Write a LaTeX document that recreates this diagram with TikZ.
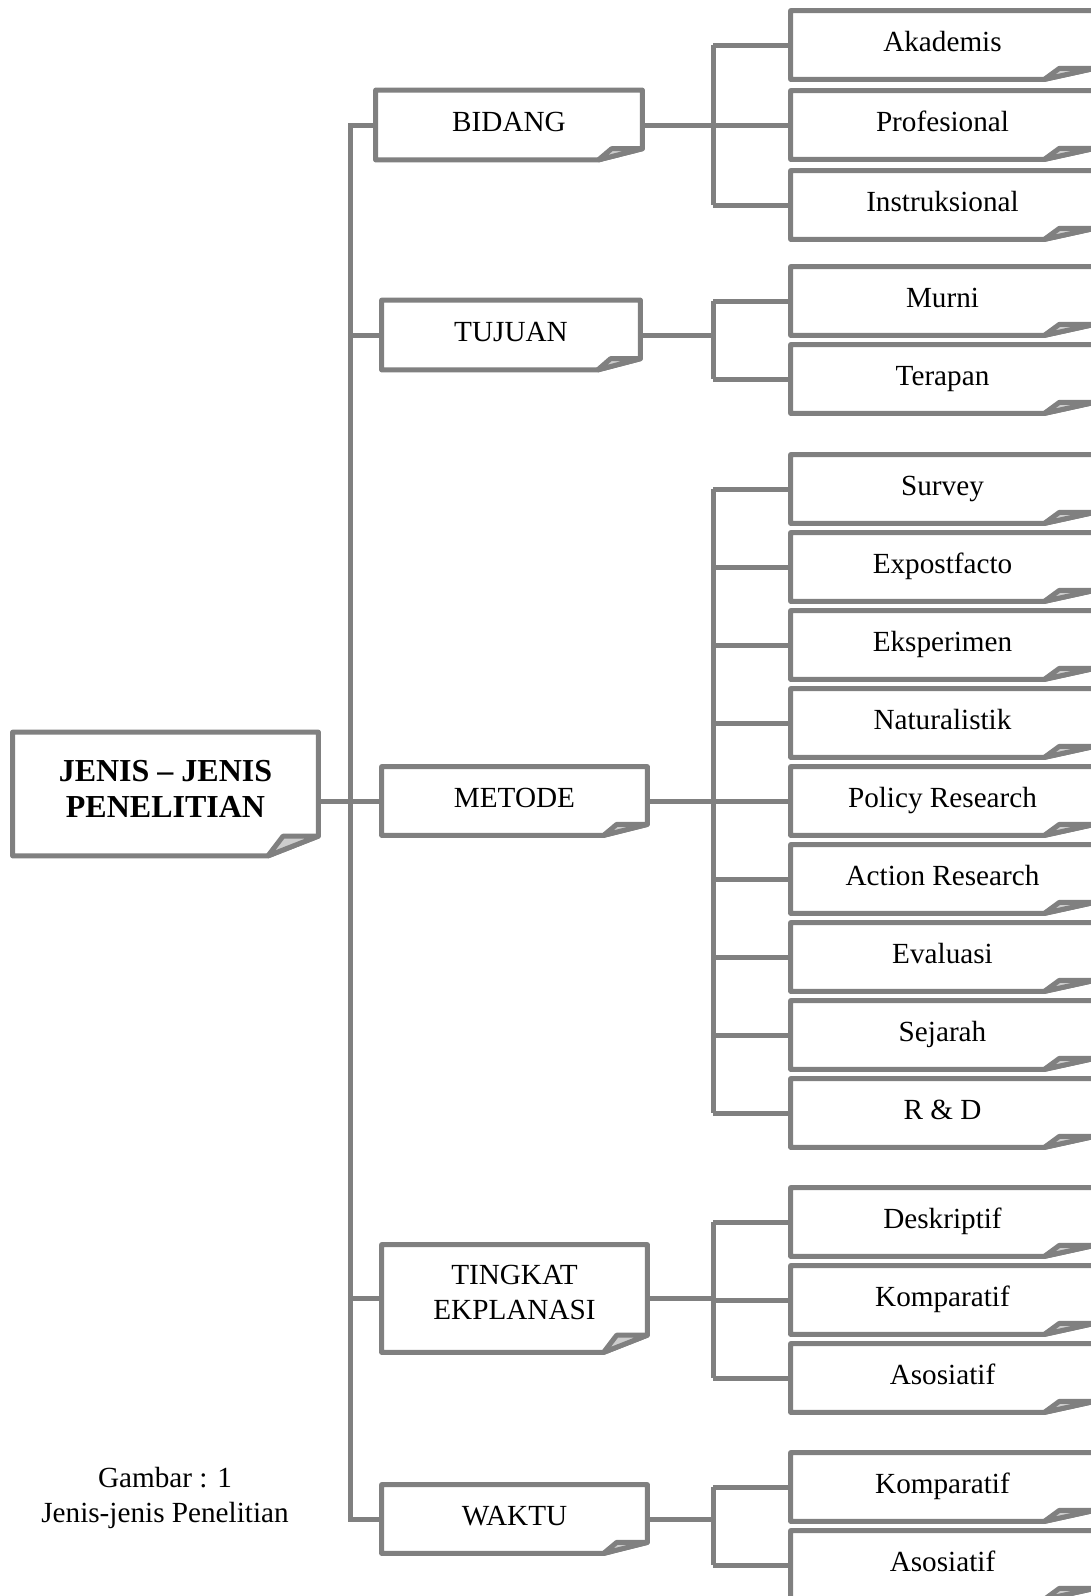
\documentclass[tikz,border=0pt]{standalone}
\usepackage{fontspec}
\setmainfont{Liberation Serif}
\usetikzlibrary{calc}
\definecolor{linegray}{RGB}{128,128,128}
\definecolor{foldgray}{RGB}{205,205,205}
\tikzset{boxline/.style = {draw=linegray, line width=2.5pt, line join=round}}
\tikzset{link/.style = {draw=linegray, line width=2.5pt}}
\tikzset{box/.style 2 args = {inner sep=0, align=center, minimum width=#1*0.5pt, minimum height=#2*0.5pt, font=\fontsize{14.6}{17.5}\selectfont}}
\tikzset{oneline/.style = {text height=0.683em, text depth=0.05em}}
\tikzset{item/.style = {box={303}{68}, oneline}}
% outline of a note with a curled lower right corner
\newcommand{\foldnote}[1]{%
  \coordinate (#1-a) at ($(#1.south east)!0.165!(#1.south west)$);
  \coordinate (#1-c) at ($(#1.south east)!0.16!(#1.north east)$);
  \coordinate (#1-b) at ($(#1-a |- #1-c)!0.3!(#1-c)$);
  \draw[boxline] (#1.north west) -- (#1.north east) -- (#1-c) -- (#1-a) -- (#1.south west) -- cycle;
  \filldraw[boxline, fill=foldgray] (#1-a) -- (#1-b) -- (#1-c) -- cycle;
}

\begin{document}
\begin{tikzpicture}[x=0.5pt, y=-0.5pt]
        \useasboundingbox (0,0) rectangle (1091,1596);
        \clip (0,0) rectangle (1091,1596);
        % main box and the five kinds
        \node[box={305}{123}, text depth=5pt, font=\bfseries\fontsize{16}{18}\selectfont] (jenis) at (165.5,794) {JENIS -- JENIS\\PENELITIAN};
        \node[box={266}{69}, oneline] (bidang) at (509,125) {BIDANG};
        \node[box={258}{69}, oneline] (tujuan) at (511,335) {TUJUAN};
        \node[box={265}{68}, oneline] (metode) at (514.5,801) {METODE};
        \node[box={265}{107}, text depth=6.5pt] (tingkat) at (514.5,1298.5) {TINGKAT\\EKPLANASI};
        \node[box={265}{68}, oneline] (waktu) at (514.5,1519) {WAKTU};
        % items
        \node[item] (akademis) at (942.5,45) {Akademis};
        \node[item] (profesional) at (942.5,125) {Profesional};
        \node[item] (instruksional) at (942.5,205) {Instruksional};
        \node[item] (murni) at (942.5,301) {Murni};
        \node[item] (terapan) at (942.5,379) {Terapan};
        \node[item] (survey) at (942.5,489) {Survey};
        \node[item] (expost) at (942.5,567) {Expostfacto};
        \node[item] (eksperimen) at (942.5,645) {Eksperimen};
        \node[item] (natural) at (942.5,723) {Naturalistik};
        \node[item] (policy) at (942.5,801) {Policy Research};
        \node[item] (action) at (942.5,879) {Action Research};
        \node[item] (evaluasi) at (942.5,957) {Evaluasi};
        \node[item] (sejarah) at (942.5,1035) {Sejarah};
        \node[item] (rnd) at (942.5,1113) {R \& D};
        \node[item] (deskriptif) at (942.5,1222) {Deskriptif};
        \node[item] (komparatif) at (942.5,1300) {Komparatif};
        \node[item] (asosiatif) at (942.5,1378) {Asosiatif};
        \node[item] (komparatifw) at (942.5,1487) {Komparatif};
        \node[item] (asosiatifw) at (942.5,1565) {Asosiatif};
        \node[font=\fontsize{14.6}{17.5}\selectfont, align=center] (caption) at (165,1498) {Gambar : 1\\Jenis-jenis Penelitian};
        \foreach \n in {jenis,bidang,tujuan,metode,tingkat,waktu,akademis,profesional,instruksional,murni,terapan,survey,expost,eksperimen,natural,policy,action,evaluasi,sejarah,rnd,deskriptif,komparatif,asosiatif,komparatifw,asosiatifw}
            {\foldnote{\n}}
        % trunk
        \coordinate (trunk) at (350,0);
        \draw[link] (bidang.west) -- (bidang.west -| trunk) -- (waktu.west -| trunk) -- (waktu.west);
        \foreach \m in {tujuan,metode,tingkat}
            \draw[link] (\m.west) -- (\m.west -| trunk);
        \draw[link] (jenis.east |- metode.west) -- (metode.west -| trunk);
        % branches
        \coordinate (fork) at (713,0);
        \draw[link] (bidang.east) -- (bidang.east -| fork);
        \draw[link] (akademis.west -| fork) -- (instruksional.west -| fork);
        \foreach \r in {akademis,profesional,instruksional}
            \draw[link] (\r.west -| fork) -- (\r.west);
        \draw[link] (tujuan.east) -- (tujuan.east -| fork);
        \draw[link] (murni.west -| fork) -- (terapan.west -| fork);
        \foreach \r in {murni,terapan}
            \draw[link] (\r.west -| fork) -- (\r.west);
        \draw[link] (metode.east) -- (metode.east -| fork);
        \draw[link] (survey.west -| fork) -- (rnd.west -| fork);
        \foreach \r in {survey,expost,eksperimen,natural,policy,action,evaluasi,sejarah,rnd}
            \draw[link] (\r.west -| fork) -- (\r.west);
        \draw[link] (tingkat.east) -- (tingkat.east -| fork);
        \draw[link] (deskriptif.west -| fork) -- (asosiatif.west -| fork);
        \foreach \r in {deskriptif,komparatif,asosiatif}
            \draw[link] (\r.west -| fork) -- (\r.west);
        \draw[link] (waktu.east) -- (waktu.east -| fork);
        \draw[link] (komparatifw.west -| fork) -- (asosiatifw.west -| fork);
        \foreach \r in {komparatifw,asosiatifw}
            \draw[link] (\r.west -| fork) -- (\r.west);
    \end{tikzpicture}
\end{document}
